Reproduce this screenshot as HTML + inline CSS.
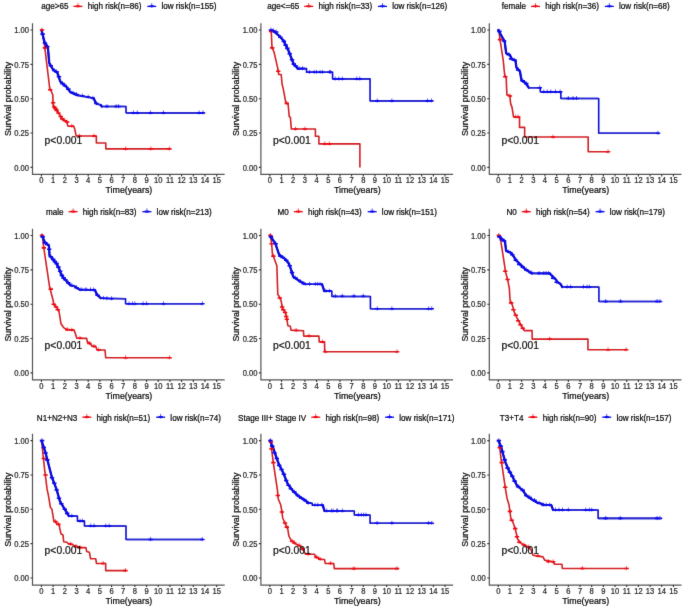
<!DOCTYPE html>
<html><head><meta charset="utf-8"><style>
html,body{margin:0;padding:0;background:#fff;}
svg{display:block;}
text{font-family:"Liberation Sans",sans-serif;}
</style></head><body>
<svg width="685" height="608" viewBox="0 0 685 608">
<defs><filter id="bl" x="0" y="0" width="685" height="608" filterUnits="userSpaceOnUse" color-interpolation-filters="sRGB"><feConvolveMatrix order="3" kernelMatrix="0.010000000000000002 0.1 0.010000000000000002 0.1 1 0.1 0.010000000000000002 0.1 0.010000000000000002" edgeMode="duplicate" preserveAlpha="true"/></filter></defs>
<g filter="url(#bl)">
<rect width="685" height="608" fill="#fff"/>
<path d="M32.5,23.2V174.45H224.7" stroke="#555555" stroke-width="1.2" fill="none"/>
<text transform="translate(29,170.6) scale(1,1.08)" text-anchor="end" font-size="7.6" fill="#2a2a2a" stroke="#2a2a2a" stroke-width="0.22">0.00</text>
<text transform="translate(29,136.25) scale(1,1.08)" text-anchor="end" font-size="7.6" fill="#2a2a2a" stroke="#2a2a2a" stroke-width="0.22">0.25</text>
<text transform="translate(29,101.9) scale(1,1.08)" text-anchor="end" font-size="7.6" fill="#2a2a2a" stroke="#2a2a2a" stroke-width="0.22">0.50</text>
<text transform="translate(29,67.55) scale(1,1.08)" text-anchor="end" font-size="7.6" fill="#2a2a2a" stroke="#2a2a2a" stroke-width="0.22">0.75</text>
<text transform="translate(29,33.2) scale(1,1.08)" text-anchor="end" font-size="7.6" fill="#2a2a2a" stroke="#2a2a2a" stroke-width="0.22">1.00</text>
<text transform="translate(41.45,183.1) scale(1,1.08)" text-anchor="middle" font-size="7.6" fill="#2a2a2a" stroke="#2a2a2a" stroke-width="0.22">0</text>
<text transform="translate(53.13,183.1) scale(1,1.08)" text-anchor="middle" font-size="7.6" fill="#2a2a2a" stroke="#2a2a2a" stroke-width="0.22">1</text>
<text transform="translate(64.81,183.1) scale(1,1.08)" text-anchor="middle" font-size="7.6" fill="#2a2a2a" stroke="#2a2a2a" stroke-width="0.22">2</text>
<text transform="translate(76.49,183.1) scale(1,1.08)" text-anchor="middle" font-size="7.6" fill="#2a2a2a" stroke="#2a2a2a" stroke-width="0.22">3</text>
<text transform="translate(88.17,183.1) scale(1,1.08)" text-anchor="middle" font-size="7.6" fill="#2a2a2a" stroke="#2a2a2a" stroke-width="0.22">4</text>
<text transform="translate(99.85,183.1) scale(1,1.08)" text-anchor="middle" font-size="7.6" fill="#2a2a2a" stroke="#2a2a2a" stroke-width="0.22">5</text>
<text transform="translate(111.53,183.1) scale(1,1.08)" text-anchor="middle" font-size="7.6" fill="#2a2a2a" stroke="#2a2a2a" stroke-width="0.22">6</text>
<text transform="translate(123.21,183.1) scale(1,1.08)" text-anchor="middle" font-size="7.6" fill="#2a2a2a" stroke="#2a2a2a" stroke-width="0.22">7</text>
<text transform="translate(134.89,183.1) scale(1,1.08)" text-anchor="middle" font-size="7.6" fill="#2a2a2a" stroke="#2a2a2a" stroke-width="0.22">8</text>
<text transform="translate(146.57,183.1) scale(1,1.08)" text-anchor="middle" font-size="7.6" fill="#2a2a2a" stroke="#2a2a2a" stroke-width="0.22">9</text>
<text transform="translate(158.25,183.1) scale(1,1.08)" text-anchor="middle" font-size="7.6" fill="#2a2a2a" stroke="#2a2a2a" stroke-width="0.22">10</text>
<text transform="translate(169.93,183.1) scale(1,1.08)" text-anchor="middle" font-size="7.6" fill="#2a2a2a" stroke="#2a2a2a" stroke-width="0.22">11</text>
<text transform="translate(181.61,183.1) scale(1,1.08)" text-anchor="middle" font-size="7.6" fill="#2a2a2a" stroke="#2a2a2a" stroke-width="0.22">12</text>
<text transform="translate(193.29,183.1) scale(1,1.08)" text-anchor="middle" font-size="7.6" fill="#2a2a2a" stroke="#2a2a2a" stroke-width="0.22">13</text>
<text transform="translate(204.97,183.1) scale(1,1.08)" text-anchor="middle" font-size="7.6" fill="#2a2a2a" stroke="#2a2a2a" stroke-width="0.22">14</text>
<text transform="translate(216.65,183.1) scale(1,1.08)" text-anchor="middle" font-size="7.6" fill="#2a2a2a" stroke="#2a2a2a" stroke-width="0.22">15</text>
<path d="M30.5,167.4h2.0M30.5,133.05h2.0M30.5,98.7h2.0M30.5,64.35h2.0M30.5,30h2.0M41.45,174.45v2.0M53.13,174.45v2.0M64.81,174.45v2.0M76.49,174.45v2.0M88.17,174.45v2.0M99.85,174.45v2.0M111.53,174.45v2.0M123.21,174.45v2.0M134.89,174.45v2.0M146.57,174.45v2.0M158.25,174.45v2.0M169.93,174.45v2.0M181.61,174.45v2.0M193.29,174.45v2.0M204.97,174.45v2.0M216.65,174.45v2.0" stroke="#333" stroke-width="1.1" fill="none"/>
<text transform="translate(128.9,193.1) scale(1,1.08)" text-anchor="middle" font-size="8.85" fill="#0a0a0a" stroke="#0a0a0a" stroke-width="0.22">Time(years)</text>
<text transform="translate(10.7,99) rotate(-90) scale(1,1.08)" text-anchor="middle" font-size="8.85" fill="#0a0a0a" stroke="#0a0a0a" stroke-width="0.22">Survival probability</text>
<path d="M41.45,30L42.03,31.37L44.6,45.8L49.86,89.49L50.79,90.04L52.78,94.99L53.13,105.57L57.33,111.34L59.44,114.64L62.71,119.58L66.45,121.23L68.08,126.18L73.8,126.18L74.62,128.65L76.26,136.07L96.35,136.07L96.35,142.94L105.81,142.94L105.81,148.85L169.35,148.85" stroke="#d22024" stroke-width="1.6" fill="none" stroke-linejoin="round"/>
<path d="M41.45,30L44.6,42.37L47.87,47.31L49.28,63.11L53.13,69.71L57.22,72.59L60.37,81.53L66.33,86.75L70.3,92.1L78.13,95.4L90.04,97.46L93.89,98.56L95.41,102.41L96.93,103.92L100.78,104.88L101.84,106.53L126.01,106.53L126.01,112.85L202.98,112.85" stroke="#0c0cd6" stroke-width="1.6" fill="none" stroke-linejoin="round"/>
<path d="M41.45,30L44.6,42.37M44.6,42.37L47.87,47.31M47.87,47.31L49.28,63.11M49.28,63.11L53.13,69.71M53.13,69.71L57.22,72.59M57.22,72.59L60.37,81.53M60.37,81.53L66.33,86.75M66.33,86.75L70.3,92.1M70.3,92.1L78.13,95.4M93.89,98.56L95.41,102.41M95.41,102.41L96.93,103.92M100.78,104.88L101.84,106.53" stroke="#0c0cd6" stroke-width="2.3" fill="none" stroke-linecap="round" stroke-linejoin="round"/>
<path d="M78.73,95.4L89.44,97.46M90.64,97.46L93.29,98.56M97.53,103.92L100.18,104.88M102.44,106.53L125.41,106.53M126.61,112.85L202.38,112.85" stroke="#2a2ad0" stroke-width="1.6" fill="none"/>
<path d="M42.03,27.6v4M44.95,45.46v4M50.21,87.37v4M53.13,100.42v4M54.3,104.54v4M55.47,106.19v4M56.63,107.98v4M58.39,110.59v4M60.72,114.16v4M62.24,116.5v4M64.81,118.28v4M67.15,119.66v4M71.82,123.78v4M79.41,133.67v4M94.01,133.67v4M125.55,146.45v4M150.89,146.45v4M169.35,146.45v4" stroke="#ee0a12" stroke-width="0.9" stroke-opacity="0.75" fill="none"/><path d="M39.83,30h4.4M42.75,47.86h4.4M48.01,89.77h4.4M50.93,102.82h4.4M52.1,106.94h4.4M53.27,108.59h4.4M54.43,110.38h4.4M56.19,112.99h4.4M58.52,116.56h4.4M60.04,118.9h4.4M62.61,120.68h4.4M64.95,122.06h4.4M69.62,126.18h4.4M77.21,136.07h4.4M91.81,136.07h4.4M123.35,148.85h4.4M148.69,148.85h4.4M167.15,148.85h4.4" stroke="#ee0a12" stroke-width="1.6" fill="none"/>
<path d="M42.62,31.72v4M44.95,40.65v4M47.29,44.09v4M50.79,63.32v4M54.3,68.13v4M56.63,69.51v4M58.97,74.32v4M62.47,81.19v4M64.81,83.25v4M68.31,86.68v4M72.99,90.8v4M76.49,92.18v4M82.33,93.55v4M88.17,94.65v4M92.84,95.89v4M96.35,101.11v4M106.86,104.13v4M116.2,104.13v4M118.54,104.13v4M133.37,110.45v4M137.23,110.45v4M150.42,110.45v4M163.51,110.45v4M199.13,110.45v4M202.98,110.45v4" stroke="#0a0aee" stroke-width="0.9" stroke-opacity="0.75" fill="none"/><path d="M40.42,34.12h4.4M42.75,43.05h4.4M45.09,46.49h4.4M48.59,65.72h4.4M52.1,70.53h4.4M54.43,71.91h4.4M56.77,76.72h4.4M60.27,83.59h4.4M62.61,85.65h4.4M66.11,89.08h4.4M70.79,93.2h4.4M74.29,94.58h4.4M80.13,95.95h4.4M85.97,97.05h4.4M90.64,98.29h4.4M94.15,103.51h4.4M104.66,106.53h4.4M114,106.53h4.4M116.34,106.53h4.4M131.17,112.85h4.4M135.03,112.85h4.4M148.22,112.85h4.4M161.31,112.85h4.4M196.93,112.85h4.4M200.78,112.85h4.4" stroke="#0a0aee" stroke-width="1.6" fill="none"/>
<text transform="translate(44.6,143.8) scale(1,1.08)" font-size="10.35" fill="#111" stroke="#111" stroke-width="0.22">p&lt;0.001</text>
<text transform="translate(41.2,8.9) scale(1,1.08)" font-size="8.1" fill="#0a0a0a" stroke="#0a0a0a" stroke-width="0.22">age&gt;65</text>
<path d="M73.45,6.4h9" stroke="#ee0a12" stroke-width="1.3" fill="none"/><path d="M75.75,6.2h4.4" stroke="#ee0a12" stroke-width="1.8" fill="none"/><path d="M77.95,3.2v4.6" stroke="#ee0a12" stroke-width="0.9" stroke-opacity="0.8" fill="none"/>
<text transform="translate(87.65,8.9) scale(1,1.08)" font-size="8.1" fill="#0a0a0a" stroke="#0a0a0a" stroke-width="0.22">high risk(n=86)</text>
<path d="M147.25,6.4h9" stroke="#0a0aee" stroke-width="1.3" fill="none"/><path d="M149.55,6.2h4.4" stroke="#0a0aee" stroke-width="1.8" fill="none"/><path d="M151.75,3.2v4.6" stroke="#0a0aee" stroke-width="0.9" stroke-opacity="0.8" fill="none"/>
<text transform="translate(161.45,8.9) scale(1,1.08)" font-size="8.1" fill="#0a0a0a" stroke="#0a0a0a" stroke-width="0.22">low risk(n=155)</text>
<path d="M260.9,23.2V174.45H453.1" stroke="#555555" stroke-width="1.2" fill="none"/>
<text transform="translate(257.4,170.6) scale(1,1.08)" text-anchor="end" font-size="7.6" fill="#2a2a2a" stroke="#2a2a2a" stroke-width="0.22">0.00</text>
<text transform="translate(257.4,136.25) scale(1,1.08)" text-anchor="end" font-size="7.6" fill="#2a2a2a" stroke="#2a2a2a" stroke-width="0.22">0.25</text>
<text transform="translate(257.4,101.9) scale(1,1.08)" text-anchor="end" font-size="7.6" fill="#2a2a2a" stroke="#2a2a2a" stroke-width="0.22">0.50</text>
<text transform="translate(257.4,67.55) scale(1,1.08)" text-anchor="end" font-size="7.6" fill="#2a2a2a" stroke="#2a2a2a" stroke-width="0.22">0.75</text>
<text transform="translate(257.4,33.2) scale(1,1.08)" text-anchor="end" font-size="7.6" fill="#2a2a2a" stroke="#2a2a2a" stroke-width="0.22">1.00</text>
<text transform="translate(269.85,183.1) scale(1,1.08)" text-anchor="middle" font-size="7.6" fill="#2a2a2a" stroke="#2a2a2a" stroke-width="0.22">0</text>
<text transform="translate(281.53,183.1) scale(1,1.08)" text-anchor="middle" font-size="7.6" fill="#2a2a2a" stroke="#2a2a2a" stroke-width="0.22">1</text>
<text transform="translate(293.21,183.1) scale(1,1.08)" text-anchor="middle" font-size="7.6" fill="#2a2a2a" stroke="#2a2a2a" stroke-width="0.22">2</text>
<text transform="translate(304.89,183.1) scale(1,1.08)" text-anchor="middle" font-size="7.6" fill="#2a2a2a" stroke="#2a2a2a" stroke-width="0.22">3</text>
<text transform="translate(316.57,183.1) scale(1,1.08)" text-anchor="middle" font-size="7.6" fill="#2a2a2a" stroke="#2a2a2a" stroke-width="0.22">4</text>
<text transform="translate(328.25,183.1) scale(1,1.08)" text-anchor="middle" font-size="7.6" fill="#2a2a2a" stroke="#2a2a2a" stroke-width="0.22">5</text>
<text transform="translate(339.93,183.1) scale(1,1.08)" text-anchor="middle" font-size="7.6" fill="#2a2a2a" stroke="#2a2a2a" stroke-width="0.22">6</text>
<text transform="translate(351.61,183.1) scale(1,1.08)" text-anchor="middle" font-size="7.6" fill="#2a2a2a" stroke="#2a2a2a" stroke-width="0.22">7</text>
<text transform="translate(363.29,183.1) scale(1,1.08)" text-anchor="middle" font-size="7.6" fill="#2a2a2a" stroke="#2a2a2a" stroke-width="0.22">8</text>
<text transform="translate(374.97,183.1) scale(1,1.08)" text-anchor="middle" font-size="7.6" fill="#2a2a2a" stroke="#2a2a2a" stroke-width="0.22">9</text>
<text transform="translate(386.65,183.1) scale(1,1.08)" text-anchor="middle" font-size="7.6" fill="#2a2a2a" stroke="#2a2a2a" stroke-width="0.22">10</text>
<text transform="translate(398.33,183.1) scale(1,1.08)" text-anchor="middle" font-size="7.6" fill="#2a2a2a" stroke="#2a2a2a" stroke-width="0.22">11</text>
<text transform="translate(410.01,183.1) scale(1,1.08)" text-anchor="middle" font-size="7.6" fill="#2a2a2a" stroke="#2a2a2a" stroke-width="0.22">12</text>
<text transform="translate(421.69,183.1) scale(1,1.08)" text-anchor="middle" font-size="7.6" fill="#2a2a2a" stroke="#2a2a2a" stroke-width="0.22">13</text>
<text transform="translate(433.37,183.1) scale(1,1.08)" text-anchor="middle" font-size="7.6" fill="#2a2a2a" stroke="#2a2a2a" stroke-width="0.22">14</text>
<text transform="translate(445.05,183.1) scale(1,1.08)" text-anchor="middle" font-size="7.6" fill="#2a2a2a" stroke="#2a2a2a" stroke-width="0.22">15</text>
<path d="M258.9,167.4h2.0M258.9,133.05h2.0M258.9,98.7h2.0M258.9,64.35h2.0M258.9,30h2.0M269.85,174.45v2.0M281.53,174.45v2.0M293.21,174.45v2.0M304.89,174.45v2.0M316.57,174.45v2.0M328.25,174.45v2.0M339.93,174.45v2.0M351.61,174.45v2.0M363.29,174.45v2.0M374.97,174.45v2.0M386.65,174.45v2.0M398.33,174.45v2.0M410.01,174.45v2.0M421.69,174.45v2.0M433.37,174.45v2.0M445.05,174.45v2.0" stroke="#333" stroke-width="1.1" fill="none"/>
<text transform="translate(357.3,193.1) scale(1,1.08)" text-anchor="middle" font-size="8.85" fill="#0a0a0a" stroke="#0a0a0a" stroke-width="0.22">Time(years)</text>
<text transform="translate(239.1,99) rotate(-90) scale(1,1.08)" text-anchor="middle" font-size="8.85" fill="#0a0a0a" stroke="#0a0a0a" stroke-width="0.22">Survival probability</text>
<path d="M269.85,30L271.02,31.37L271.37,33.44L271.95,47.04L274.05,52.12L277.68,67.92L278.73,74.52L281.18,74.52L282.11,84.27L283.17,88.4L285.85,102.96L288.07,103.78L289.24,116.56L290.41,117.39L291.34,129.07L315.4,129.07L315.4,136.21L318.91,136.21L318.91,143.9L359.9,143.9L359.9,167.4" stroke="#d22024" stroke-width="1.6" fill="none" stroke-linejoin="round"/>
<path d="M269.85,30L272.19,30.69L274.99,32.34L279.54,36.05L280.25,37.28L283.28,40.3L288.42,50.47L293.56,63.8L295.55,65.86L297.65,68.61L306.53,68.61L306.53,72.32L332.57,72.32L332.57,78.91L370.06,78.91L370.06,100.9L431.38,100.9" stroke="#0c0cd6" stroke-width="1.6" fill="none" stroke-linejoin="round"/>
<path d="M272.19,30.69L274.99,32.34M274.99,32.34L279.54,36.05M279.54,36.05L280.25,37.28M280.25,37.28L283.28,40.3M283.28,40.3L288.42,50.47M288.42,50.47L293.56,63.8M293.56,63.8L295.55,65.86M295.55,65.86L297.65,68.61" stroke="#0c0cd6" stroke-width="2.3" fill="none" stroke-linecap="round" stroke-linejoin="round"/>
<path d="M270.45,30L271.59,30.69M298.25,68.61L305.93,68.61M307.13,72.32L331.97,72.32M333.17,78.91L369.46,78.91M370.66,100.9L430.78,100.9" stroke="#2a2ad0" stroke-width="1.6" fill="none"/>
<path d="M271.02,28.97v4M272.19,45.46v4M278.26,68.82v4M286.79,100.97v4M295.55,126.67v4M304.89,126.67v4M324.75,141.5v4M329.42,141.5v4" stroke="#ee0a12" stroke-width="0.9" stroke-opacity="0.75" fill="none"/><path d="M268.82,31.37h4.4M269.99,47.86h4.4M276.06,71.22h4.4M284.59,103.37h4.4M293.35,129.07h4.4M302.69,129.07h4.4M322.55,143.9h4.4M327.22,143.9h4.4" stroke="#ee0a12" stroke-width="1.6" fill="none"/>
<path d="M271.02,27.6v4M273.35,28.29v4M276.27,29.66v4M280.36,34.88v4M283.87,39v4M285.62,42.71v4M287.37,46.01v4M289.71,51.37v4M292.04,57.42v4M293.79,61.68v4M295.55,63.46v4M299.05,66.21v4M302.55,66.21v4M309.56,69.92v4M314.23,69.92v4M316.57,69.92v4M320.07,69.92v4M322.41,69.92v4M329.42,69.92v4M330.59,69.92v4M335.26,76.51v4M338.76,76.51v4M342.27,76.51v4M356.87,76.51v4M359.79,76.51v4M377.31,98.5v4M391.91,98.5v4M427.53,98.5v4M431.38,98.5v4" stroke="#0a0aee" stroke-width="0.9" stroke-opacity="0.75" fill="none"/><path d="M268.82,30h4.4M271.15,30.69h4.4M274.07,32.06h4.4M278.16,37.28h4.4M281.67,41.4h4.4M283.42,45.11h4.4M285.17,48.41h4.4M287.51,53.77h4.4M289.84,59.82h4.4M291.59,64.08h4.4M293.35,65.86h4.4M296.85,68.61h4.4M300.35,68.61h4.4M307.36,72.32h4.4M312.03,72.32h4.4M314.37,72.32h4.4M317.87,72.32h4.4M320.21,72.32h4.4M327.22,72.32h4.4M328.39,72.32h4.4M333.06,78.91h4.4M336.56,78.91h4.4M340.07,78.91h4.4M354.67,78.91h4.4M357.59,78.91h4.4M375.11,100.9h4.4M389.71,100.9h4.4M425.33,100.9h4.4M429.18,100.9h4.4" stroke="#0a0aee" stroke-width="1.6" fill="none"/>
<text transform="translate(273,143.8) scale(1,1.08)" font-size="10.35" fill="#111" stroke="#111" stroke-width="0.22">p&lt;0.001</text>
<text transform="translate(267.23,8.9) scale(1,1.08)" font-size="8.1" fill="#0a0a0a" stroke="#0a0a0a" stroke-width="0.22">age&lt;=65</text>
<path d="M304.22,6.4h9" stroke="#ee0a12" stroke-width="1.3" fill="none"/><path d="M306.52,6.2h4.4" stroke="#ee0a12" stroke-width="1.8" fill="none"/><path d="M308.72,3.2v4.6" stroke="#ee0a12" stroke-width="0.9" stroke-opacity="0.8" fill="none"/>
<text transform="translate(318.42,8.9) scale(1,1.08)" font-size="8.1" fill="#0a0a0a" stroke="#0a0a0a" stroke-width="0.22">high risk(n=33)</text>
<path d="M378.02,6.4h9" stroke="#0a0aee" stroke-width="1.3" fill="none"/><path d="M380.32,6.2h4.4" stroke="#0a0aee" stroke-width="1.8" fill="none"/><path d="M382.52,3.2v4.6" stroke="#0a0aee" stroke-width="0.9" stroke-opacity="0.8" fill="none"/>
<text transform="translate(392.22,8.9) scale(1,1.08)" font-size="8.1" fill="#0a0a0a" stroke="#0a0a0a" stroke-width="0.22">low risk(n=126)</text>
<path d="M489.3,23.2V174.45H681.5" stroke="#555555" stroke-width="1.2" fill="none"/>
<text transform="translate(485.8,170.6) scale(1,1.08)" text-anchor="end" font-size="7.6" fill="#2a2a2a" stroke="#2a2a2a" stroke-width="0.22">0.00</text>
<text transform="translate(485.8,136.25) scale(1,1.08)" text-anchor="end" font-size="7.6" fill="#2a2a2a" stroke="#2a2a2a" stroke-width="0.22">0.25</text>
<text transform="translate(485.8,101.9) scale(1,1.08)" text-anchor="end" font-size="7.6" fill="#2a2a2a" stroke="#2a2a2a" stroke-width="0.22">0.50</text>
<text transform="translate(485.8,67.55) scale(1,1.08)" text-anchor="end" font-size="7.6" fill="#2a2a2a" stroke="#2a2a2a" stroke-width="0.22">0.75</text>
<text transform="translate(485.8,33.2) scale(1,1.08)" text-anchor="end" font-size="7.6" fill="#2a2a2a" stroke="#2a2a2a" stroke-width="0.22">1.00</text>
<text transform="translate(498.25,183.1) scale(1,1.08)" text-anchor="middle" font-size="7.6" fill="#2a2a2a" stroke="#2a2a2a" stroke-width="0.22">0</text>
<text transform="translate(509.93,183.1) scale(1,1.08)" text-anchor="middle" font-size="7.6" fill="#2a2a2a" stroke="#2a2a2a" stroke-width="0.22">1</text>
<text transform="translate(521.61,183.1) scale(1,1.08)" text-anchor="middle" font-size="7.6" fill="#2a2a2a" stroke="#2a2a2a" stroke-width="0.22">2</text>
<text transform="translate(533.29,183.1) scale(1,1.08)" text-anchor="middle" font-size="7.6" fill="#2a2a2a" stroke="#2a2a2a" stroke-width="0.22">3</text>
<text transform="translate(544.97,183.1) scale(1,1.08)" text-anchor="middle" font-size="7.6" fill="#2a2a2a" stroke="#2a2a2a" stroke-width="0.22">4</text>
<text transform="translate(556.65,183.1) scale(1,1.08)" text-anchor="middle" font-size="7.6" fill="#2a2a2a" stroke="#2a2a2a" stroke-width="0.22">5</text>
<text transform="translate(568.33,183.1) scale(1,1.08)" text-anchor="middle" font-size="7.6" fill="#2a2a2a" stroke="#2a2a2a" stroke-width="0.22">6</text>
<text transform="translate(580.01,183.1) scale(1,1.08)" text-anchor="middle" font-size="7.6" fill="#2a2a2a" stroke="#2a2a2a" stroke-width="0.22">7</text>
<text transform="translate(591.69,183.1) scale(1,1.08)" text-anchor="middle" font-size="7.6" fill="#2a2a2a" stroke="#2a2a2a" stroke-width="0.22">8</text>
<text transform="translate(603.37,183.1) scale(1,1.08)" text-anchor="middle" font-size="7.6" fill="#2a2a2a" stroke="#2a2a2a" stroke-width="0.22">9</text>
<text transform="translate(615.05,183.1) scale(1,1.08)" text-anchor="middle" font-size="7.6" fill="#2a2a2a" stroke="#2a2a2a" stroke-width="0.22">10</text>
<text transform="translate(626.73,183.1) scale(1,1.08)" text-anchor="middle" font-size="7.6" fill="#2a2a2a" stroke="#2a2a2a" stroke-width="0.22">11</text>
<text transform="translate(638.41,183.1) scale(1,1.08)" text-anchor="middle" font-size="7.6" fill="#2a2a2a" stroke="#2a2a2a" stroke-width="0.22">12</text>
<text transform="translate(650.09,183.1) scale(1,1.08)" text-anchor="middle" font-size="7.6" fill="#2a2a2a" stroke="#2a2a2a" stroke-width="0.22">13</text>
<text transform="translate(661.77,183.1) scale(1,1.08)" text-anchor="middle" font-size="7.6" fill="#2a2a2a" stroke="#2a2a2a" stroke-width="0.22">14</text>
<text transform="translate(673.45,183.1) scale(1,1.08)" text-anchor="middle" font-size="7.6" fill="#2a2a2a" stroke="#2a2a2a" stroke-width="0.22">15</text>
<path d="M487.3,167.4h2.0M487.3,133.05h2.0M487.3,98.7h2.0M487.3,64.35h2.0M487.3,30h2.0M498.25,174.45v2.0M509.93,174.45v2.0M521.61,174.45v2.0M533.29,174.45v2.0M544.97,174.45v2.0M556.65,174.45v2.0M568.33,174.45v2.0M580.01,174.45v2.0M591.69,174.45v2.0M603.37,174.45v2.0M615.05,174.45v2.0M626.73,174.45v2.0M638.41,174.45v2.0M650.09,174.45v2.0M661.77,174.45v2.0M673.45,174.45v2.0" stroke="#333" stroke-width="1.1" fill="none"/>
<text transform="translate(585.7,193.1) scale(1,1.08)" text-anchor="middle" font-size="8.85" fill="#0a0a0a" stroke="#0a0a0a" stroke-width="0.22">Time(years)</text>
<text transform="translate(467.5,99) rotate(-90) scale(1,1.08)" text-anchor="middle" font-size="8.85" fill="#0a0a0a" stroke="#0a0a0a" stroke-width="0.22">Survival probability</text>
<path d="M498.25,30L498.83,30.69L500.24,40.99L503.16,59.95L504.67,74.79L506.19,77.82L506.89,94.85L509.81,95.54L510.63,103.65L512.03,107.36L513.55,116.97L519.51,116.97L519.51,127.42L524.65,127.42L524.65,137.03L588.19,137.03L588.19,151.74L608.04,151.74" stroke="#d22024" stroke-width="1.6" fill="none" stroke-linejoin="round"/>
<path d="M498.25,30L504.67,41.54L506.19,53.36L509.7,54.73L511.92,59.13L515.54,60.64L516.35,67.24L519.97,71.49L521.49,80.29L525.81,83.31L528.73,87.71L540.3,87.71L540.3,91.83L560.85,91.83L560.85,98.43L598.7,98.43L598.7,133.26L658.03,133.26" stroke="#0c0cd6" stroke-width="1.6" fill="none" stroke-linejoin="round"/>
<path d="M498.25,30L504.67,41.54M504.67,41.54L506.19,53.36M506.19,53.36L509.7,54.73M509.7,54.73L511.92,59.13M511.92,59.13L515.54,60.64M515.54,60.64L516.35,67.24M516.35,67.24L519.97,71.49M519.97,71.49L521.49,80.29M521.49,80.29L525.81,83.31M525.81,83.31L528.73,87.71" stroke="#0c0cd6" stroke-width="2.3" fill="none" stroke-linecap="round" stroke-linejoin="round"/>
<path d="M529.33,87.71L539.7,87.71M540.9,91.83L560.25,91.83M561.45,98.43L598.1,98.43M599.3,133.26L657.43,133.26" stroke="#2a2ad0" stroke-width="1.6" fill="none"/>
<path d="M500,37.22v4M505.26,74.32v4M509.93,93.55v4M515.77,114.57v4M518.11,114.57v4M553.03,134.63v4M608.04,149.34v4" stroke="#ee0a12" stroke-width="0.9" stroke-opacity="0.75" fill="none"/><path d="M497.8,39.62h4.4M503.06,76.72h4.4M507.73,95.95h4.4M513.57,116.97h4.4M515.91,116.97h4.4M550.83,137.03h4.4M605.84,151.74h4.4" stroke="#ee0a12" stroke-width="1.6" fill="none"/>
<path d="M499.42,28.97v4M504.09,38.59v4M508.76,52.33v4M511.1,56.45v4M514.6,57.83v4M518.11,67.45v4M522.78,78.44v4M526.28,81.19v4M539.71,85.31v4M543.8,89.43v4M547.31,89.43v4M550.81,89.43v4M555.48,89.43v4M560.15,89.43v4M568.33,96.03v4M573,96.03v4M576.51,96.03v4M658.03,130.86v4" stroke="#0a0aee" stroke-width="0.9" stroke-opacity="0.75" fill="none"/><path d="M497.22,31.37h4.4M501.89,40.99h4.4M506.56,54.73h4.4M508.9,58.85h4.4M512.4,60.23h4.4M515.91,69.85h4.4M520.58,80.84h4.4M524.08,83.59h4.4M537.51,87.71h4.4M541.6,91.83h4.4M545.11,91.83h4.4M548.61,91.83h4.4M553.28,91.83h4.4M557.95,91.83h4.4M566.13,98.43h4.4M570.8,98.43h4.4M574.31,98.43h4.4M655.83,133.26h4.4" stroke="#0a0aee" stroke-width="1.6" fill="none"/>
<text transform="translate(501.4,143.8) scale(1,1.08)" font-size="10.35" fill="#111" stroke="#111" stroke-width="0.22">p&lt;0.001</text>
<text transform="translate(501.72,8.9) scale(1,1.08)" font-size="8.1" fill="#0a0a0a" stroke="#0a0a0a" stroke-width="0.22">female</text>
<path d="M531.03,6.4h9" stroke="#ee0a12" stroke-width="1.3" fill="none"/><path d="M533.33,6.2h4.4" stroke="#ee0a12" stroke-width="1.8" fill="none"/><path d="M535.53,3.2v4.6" stroke="#ee0a12" stroke-width="0.9" stroke-opacity="0.8" fill="none"/>
<text transform="translate(545.23,8.9) scale(1,1.08)" font-size="8.1" fill="#0a0a0a" stroke="#0a0a0a" stroke-width="0.22">high risk(n=36)</text>
<path d="M604.84,6.4h9" stroke="#0a0aee" stroke-width="1.3" fill="none"/><path d="M607.14,6.2h4.4" stroke="#0a0aee" stroke-width="1.8" fill="none"/><path d="M609.34,3.2v4.6" stroke="#0a0aee" stroke-width="0.9" stroke-opacity="0.8" fill="none"/>
<text transform="translate(619.04,8.9) scale(1,1.08)" font-size="8.1" fill="#0a0a0a" stroke="#0a0a0a" stroke-width="0.22">low risk(n=68)</text>
<path d="M32.5,228.7V379.95H224.7" stroke="#555555" stroke-width="1.2" fill="none"/>
<text transform="translate(29,376.1) scale(1,1.08)" text-anchor="end" font-size="7.6" fill="#2a2a2a" stroke="#2a2a2a" stroke-width="0.22">0.00</text>
<text transform="translate(29,341.75) scale(1,1.08)" text-anchor="end" font-size="7.6" fill="#2a2a2a" stroke="#2a2a2a" stroke-width="0.22">0.25</text>
<text transform="translate(29,307.4) scale(1,1.08)" text-anchor="end" font-size="7.6" fill="#2a2a2a" stroke="#2a2a2a" stroke-width="0.22">0.50</text>
<text transform="translate(29,273.05) scale(1,1.08)" text-anchor="end" font-size="7.6" fill="#2a2a2a" stroke="#2a2a2a" stroke-width="0.22">0.75</text>
<text transform="translate(29,238.7) scale(1,1.08)" text-anchor="end" font-size="7.6" fill="#2a2a2a" stroke="#2a2a2a" stroke-width="0.22">1.00</text>
<text transform="translate(41.45,388.6) scale(1,1.08)" text-anchor="middle" font-size="7.6" fill="#2a2a2a" stroke="#2a2a2a" stroke-width="0.22">0</text>
<text transform="translate(53.13,388.6) scale(1,1.08)" text-anchor="middle" font-size="7.6" fill="#2a2a2a" stroke="#2a2a2a" stroke-width="0.22">1</text>
<text transform="translate(64.81,388.6) scale(1,1.08)" text-anchor="middle" font-size="7.6" fill="#2a2a2a" stroke="#2a2a2a" stroke-width="0.22">2</text>
<text transform="translate(76.49,388.6) scale(1,1.08)" text-anchor="middle" font-size="7.6" fill="#2a2a2a" stroke="#2a2a2a" stroke-width="0.22">3</text>
<text transform="translate(88.17,388.6) scale(1,1.08)" text-anchor="middle" font-size="7.6" fill="#2a2a2a" stroke="#2a2a2a" stroke-width="0.22">4</text>
<text transform="translate(99.85,388.6) scale(1,1.08)" text-anchor="middle" font-size="7.6" fill="#2a2a2a" stroke="#2a2a2a" stroke-width="0.22">5</text>
<text transform="translate(111.53,388.6) scale(1,1.08)" text-anchor="middle" font-size="7.6" fill="#2a2a2a" stroke="#2a2a2a" stroke-width="0.22">6</text>
<text transform="translate(123.21,388.6) scale(1,1.08)" text-anchor="middle" font-size="7.6" fill="#2a2a2a" stroke="#2a2a2a" stroke-width="0.22">7</text>
<text transform="translate(134.89,388.6) scale(1,1.08)" text-anchor="middle" font-size="7.6" fill="#2a2a2a" stroke="#2a2a2a" stroke-width="0.22">8</text>
<text transform="translate(146.57,388.6) scale(1,1.08)" text-anchor="middle" font-size="7.6" fill="#2a2a2a" stroke="#2a2a2a" stroke-width="0.22">9</text>
<text transform="translate(158.25,388.6) scale(1,1.08)" text-anchor="middle" font-size="7.6" fill="#2a2a2a" stroke="#2a2a2a" stroke-width="0.22">10</text>
<text transform="translate(169.93,388.6) scale(1,1.08)" text-anchor="middle" font-size="7.6" fill="#2a2a2a" stroke="#2a2a2a" stroke-width="0.22">11</text>
<text transform="translate(181.61,388.6) scale(1,1.08)" text-anchor="middle" font-size="7.6" fill="#2a2a2a" stroke="#2a2a2a" stroke-width="0.22">12</text>
<text transform="translate(193.29,388.6) scale(1,1.08)" text-anchor="middle" font-size="7.6" fill="#2a2a2a" stroke="#2a2a2a" stroke-width="0.22">13</text>
<text transform="translate(204.97,388.6) scale(1,1.08)" text-anchor="middle" font-size="7.6" fill="#2a2a2a" stroke="#2a2a2a" stroke-width="0.22">14</text>
<text transform="translate(216.65,388.6) scale(1,1.08)" text-anchor="middle" font-size="7.6" fill="#2a2a2a" stroke="#2a2a2a" stroke-width="0.22">15</text>
<path d="M30.5,372.9h2.0M30.5,338.55h2.0M30.5,304.2h2.0M30.5,269.85h2.0M30.5,235.5h2.0M41.45,379.95v2.0M53.13,379.95v2.0M64.81,379.95v2.0M76.49,379.95v2.0M88.17,379.95v2.0M99.85,379.95v2.0M111.53,379.95v2.0M123.21,379.95v2.0M134.89,379.95v2.0M146.57,379.95v2.0M158.25,379.95v2.0M169.93,379.95v2.0M181.61,379.95v2.0M193.29,379.95v2.0M204.97,379.95v2.0M216.65,379.95v2.0" stroke="#333" stroke-width="1.1" fill="none"/>
<text transform="translate(128.9,398.6) scale(1,1.08)" text-anchor="middle" font-size="8.85" fill="#0a0a0a" stroke="#0a0a0a" stroke-width="0.22">Time(years)</text>
<text transform="translate(10.7,304.5) rotate(-90) scale(1,1.08)" text-anchor="middle" font-size="8.85" fill="#0a0a0a" stroke="#0a0a0a" stroke-width="0.22">Survival probability</text>
<path d="M41.45,235.5L42.62,236.19L43.2,243.74L46.36,265.04L49.51,286.48L53.01,299.94L53.83,304.61L57.1,307.91L59.09,311.76L60.96,323.71L63.64,327.56L66.91,329.62L74.15,330.17L75.56,334.15L76.84,338.14L86.65,338.41L87.35,341.98L90.62,344.05L91.91,345.97L95.76,346.66L97.16,349.95L104.99,349.95L105.69,357.79L169.58,357.79" stroke="#d22024" stroke-width="1.6" fill="none" stroke-linejoin="round"/>
<path d="M41.45,235.5L42.03,235.77L44.95,242.64L48.93,245.67L49.51,255.29L53.01,259.41L56.4,263.39L59.32,269.16L60.96,273.83L62.24,276.17L66.21,280.7L70.3,285.24L74.85,286.48L79.53,289.64L94.94,289.91L96.81,294.44L100.78,298.29L125.55,298.7L125.55,303.79L202.4,303.79" stroke="#0c0cd6" stroke-width="1.6" fill="none" stroke-linejoin="round"/>
<path d="M41.45,235.5L42.03,235.77M42.03,235.77L44.95,242.64M44.95,242.64L48.93,245.67M48.93,245.67L49.51,255.29M49.51,255.29L53.01,259.41M53.01,259.41L56.4,263.39M56.4,263.39L59.32,269.16M59.32,269.16L60.96,273.83M60.96,273.83L62.24,276.17M62.24,276.17L66.21,280.7M66.21,280.7L70.3,285.24M74.85,286.48L79.53,289.64M94.94,289.91L96.81,294.44M96.81,294.44L100.78,298.29" stroke="#0c0cd6" stroke-width="2.3" fill="none" stroke-linecap="round" stroke-linejoin="round"/>
<path d="M70.9,285.24L74.25,286.48M80.13,289.64L94.34,289.91M101.38,298.29L124.95,298.7M126.15,303.79L201.8,303.79" stroke="#2a2ad0" stroke-width="1.6" fill="none"/>
<path d="M42.03,233.1v4M43.79,245.47v4M50.79,286.69v4M53.71,301.8v4M56.05,304.55v4M57.8,307.3v4M67.15,327.22v4M71.82,327.63v4M79.99,335.88v4M89.34,340.96v4M94.01,343.98v4M98.68,347.55v4M125.55,355.39v4M169.58,355.39v4" stroke="#ee0a12" stroke-width="0.9" stroke-opacity="0.75" fill="none"/><path d="M39.83,235.5h4.4M41.59,247.87h4.4M48.59,289.09h4.4M51.51,304.2h4.4M53.85,306.95h4.4M55.6,309.7h4.4M64.95,329.62h4.4M69.62,330.03h4.4M77.79,338.28h4.4M87.14,343.36h4.4M91.81,346.38h4.4M96.48,349.95h4.4M123.35,357.79h4.4M167.38,357.79h4.4" stroke="#ee0a12" stroke-width="1.6" fill="none"/>
<path d="M42.62,234.47v4M44.95,240.24v4M47.29,242.03v4M49.16,246.84v4M50.79,254.4v4M53.13,257.01v4M54.88,259.21v4M56.63,261.27v4M58.39,264.7v4M60.14,268.82v4M61.89,272.95v4M63.64,275.69v4M65.39,277.34v4M68.31,280.5v4M71.82,283.11v4M76.49,285.31v4M81.16,287.24v4M85.83,287.24v4M90.51,287.37v4M93.43,287.51v4M97.51,292.87v4M103.35,295.89v4M106.86,296.17v4M111.53,296.3v4M129.05,301.39v4M132.55,301.39v4M134.89,301.39v4M143.07,301.39v4M146.57,301.39v4M163.51,301.39v4M202.4,301.39v4" stroke="#0a0aee" stroke-width="0.9" stroke-opacity="0.75" fill="none"/><path d="M40.42,236.87h4.4M42.75,242.64h4.4M45.09,244.43h4.4M46.96,249.24h4.4M48.59,256.8h4.4M50.93,259.41h4.4M52.68,261.61h4.4M54.43,263.67h4.4M56.19,267.1h4.4M57.94,271.22h4.4M59.69,275.35h4.4M61.44,278.09h4.4M63.19,279.74h4.4M66.11,282.9h4.4M69.62,285.51h4.4M74.29,287.71h4.4M78.96,289.64h4.4M83.63,289.64h4.4M88.31,289.77h4.4M91.23,289.91h4.4M95.31,295.27h4.4M101.15,298.29h4.4M104.66,298.57h4.4M109.33,298.7h4.4M126.85,303.79h4.4M130.35,303.79h4.4M132.69,303.79h4.4M140.87,303.79h4.4M144.37,303.79h4.4M161.31,303.79h4.4M200.2,303.79h4.4" stroke="#0a0aee" stroke-width="1.6" fill="none"/>
<text transform="translate(44.6,349.3) scale(1,1.08)" font-size="10.35" fill="#111" stroke="#111" stroke-width="0.22">p&lt;0.001</text>
<text transform="translate(46.05,214.8) scale(1,1.08)" font-size="8.1" fill="#0a0a0a" stroke="#0a0a0a" stroke-width="0.22">male</text>
<path d="M68.6,211.7h9" stroke="#ee0a12" stroke-width="1.3" fill="none"/><path d="M70.9,211.5h4.4" stroke="#ee0a12" stroke-width="1.8" fill="none"/><path d="M73.1,208.5v4.6" stroke="#ee0a12" stroke-width="0.9" stroke-opacity="0.8" fill="none"/>
<text transform="translate(82.8,214.8) scale(1,1.08)" font-size="8.1" fill="#0a0a0a" stroke="#0a0a0a" stroke-width="0.22">high risk(n=83)</text>
<path d="M142.41,211.7h9" stroke="#0a0aee" stroke-width="1.3" fill="none"/><path d="M144.71,211.5h4.4" stroke="#0a0aee" stroke-width="1.8" fill="none"/><path d="M146.91,208.5v4.6" stroke="#0a0aee" stroke-width="0.9" stroke-opacity="0.8" fill="none"/>
<text transform="translate(156.61,214.8) scale(1,1.08)" font-size="8.1" fill="#0a0a0a" stroke="#0a0a0a" stroke-width="0.22">low risk(n=213)</text>
<path d="M260.9,228.7V379.95H453.1" stroke="#555555" stroke-width="1.2" fill="none"/>
<text transform="translate(257.4,376.1) scale(1,1.08)" text-anchor="end" font-size="7.6" fill="#2a2a2a" stroke="#2a2a2a" stroke-width="0.22">0.00</text>
<text transform="translate(257.4,341.75) scale(1,1.08)" text-anchor="end" font-size="7.6" fill="#2a2a2a" stroke="#2a2a2a" stroke-width="0.22">0.25</text>
<text transform="translate(257.4,307.4) scale(1,1.08)" text-anchor="end" font-size="7.6" fill="#2a2a2a" stroke="#2a2a2a" stroke-width="0.22">0.50</text>
<text transform="translate(257.4,273.05) scale(1,1.08)" text-anchor="end" font-size="7.6" fill="#2a2a2a" stroke="#2a2a2a" stroke-width="0.22">0.75</text>
<text transform="translate(257.4,238.7) scale(1,1.08)" text-anchor="end" font-size="7.6" fill="#2a2a2a" stroke="#2a2a2a" stroke-width="0.22">1.00</text>
<text transform="translate(269.85,388.6) scale(1,1.08)" text-anchor="middle" font-size="7.6" fill="#2a2a2a" stroke="#2a2a2a" stroke-width="0.22">0</text>
<text transform="translate(281.53,388.6) scale(1,1.08)" text-anchor="middle" font-size="7.6" fill="#2a2a2a" stroke="#2a2a2a" stroke-width="0.22">1</text>
<text transform="translate(293.21,388.6) scale(1,1.08)" text-anchor="middle" font-size="7.6" fill="#2a2a2a" stroke="#2a2a2a" stroke-width="0.22">2</text>
<text transform="translate(304.89,388.6) scale(1,1.08)" text-anchor="middle" font-size="7.6" fill="#2a2a2a" stroke="#2a2a2a" stroke-width="0.22">3</text>
<text transform="translate(316.57,388.6) scale(1,1.08)" text-anchor="middle" font-size="7.6" fill="#2a2a2a" stroke="#2a2a2a" stroke-width="0.22">4</text>
<text transform="translate(328.25,388.6) scale(1,1.08)" text-anchor="middle" font-size="7.6" fill="#2a2a2a" stroke="#2a2a2a" stroke-width="0.22">5</text>
<text transform="translate(339.93,388.6) scale(1,1.08)" text-anchor="middle" font-size="7.6" fill="#2a2a2a" stroke="#2a2a2a" stroke-width="0.22">6</text>
<text transform="translate(351.61,388.6) scale(1,1.08)" text-anchor="middle" font-size="7.6" fill="#2a2a2a" stroke="#2a2a2a" stroke-width="0.22">7</text>
<text transform="translate(363.29,388.6) scale(1,1.08)" text-anchor="middle" font-size="7.6" fill="#2a2a2a" stroke="#2a2a2a" stroke-width="0.22">8</text>
<text transform="translate(374.97,388.6) scale(1,1.08)" text-anchor="middle" font-size="7.6" fill="#2a2a2a" stroke="#2a2a2a" stroke-width="0.22">9</text>
<text transform="translate(386.65,388.6) scale(1,1.08)" text-anchor="middle" font-size="7.6" fill="#2a2a2a" stroke="#2a2a2a" stroke-width="0.22">10</text>
<text transform="translate(398.33,388.6) scale(1,1.08)" text-anchor="middle" font-size="7.6" fill="#2a2a2a" stroke="#2a2a2a" stroke-width="0.22">11</text>
<text transform="translate(410.01,388.6) scale(1,1.08)" text-anchor="middle" font-size="7.6" fill="#2a2a2a" stroke="#2a2a2a" stroke-width="0.22">12</text>
<text transform="translate(421.69,388.6) scale(1,1.08)" text-anchor="middle" font-size="7.6" fill="#2a2a2a" stroke="#2a2a2a" stroke-width="0.22">13</text>
<text transform="translate(433.37,388.6) scale(1,1.08)" text-anchor="middle" font-size="7.6" fill="#2a2a2a" stroke="#2a2a2a" stroke-width="0.22">14</text>
<text transform="translate(445.05,388.6) scale(1,1.08)" text-anchor="middle" font-size="7.6" fill="#2a2a2a" stroke="#2a2a2a" stroke-width="0.22">15</text>
<path d="M258.9,372.9h2.0M258.9,338.55h2.0M258.9,304.2h2.0M258.9,269.85h2.0M258.9,235.5h2.0M269.85,379.95v2.0M281.53,379.95v2.0M293.21,379.95v2.0M304.89,379.95v2.0M316.57,379.95v2.0M328.25,379.95v2.0M339.93,379.95v2.0M351.61,379.95v2.0M363.29,379.95v2.0M374.97,379.95v2.0M386.65,379.95v2.0M398.33,379.95v2.0M410.01,379.95v2.0M421.69,379.95v2.0M433.37,379.95v2.0M445.05,379.95v2.0" stroke="#333" stroke-width="1.1" fill="none"/>
<text transform="translate(357.3,398.6) scale(1,1.08)" text-anchor="middle" font-size="8.85" fill="#0a0a0a" stroke="#0a0a0a" stroke-width="0.22">Time(years)</text>
<text transform="translate(239.1,304.5) rotate(-90) scale(1,1.08)" text-anchor="middle" font-size="8.85" fill="#0a0a0a" stroke="#0a0a0a" stroke-width="0.22">Survival probability</text>
<path d="M269.85,235.5L270.43,236.19L271.6,243.47L272.42,253.77L274.64,259.68L276.86,265.73L277.79,294.72L278.49,295.27L281.06,300.49L282.46,308.46L285.73,312.99L287.14,320.14L287.72,325.5L290.29,326.18L290.99,330.17L303.49,330.72L303.72,336.08L318.91,336.08L319.26,341.85L324.51,341.85L324.75,351.74L397.05,351.74" stroke="#d22024" stroke-width="1.6" fill="none" stroke-linejoin="round"/>
<path d="M269.85,235.5L275.34,243.47L279.08,254.6L284.22,258.31L288.77,263.39L290.99,269.44L293.21,276.72L297.65,279.74L302.09,282.63L305.71,284.28L322.06,284.28L324.28,291.15L331.87,291.15L331.87,296.51L370.41,296.51L370.41,308.73L431.73,308.73" stroke="#0c0cd6" stroke-width="1.6" fill="none" stroke-linejoin="round"/>
<path d="M269.85,235.5L275.34,243.47M275.34,243.47L279.08,254.6M279.08,254.6L284.22,258.31M284.22,258.31L288.77,263.39M288.77,263.39L290.99,269.44M290.99,269.44L293.21,276.72M293.21,276.72L297.65,279.74M297.65,279.74L302.09,282.63M302.09,282.63L305.71,284.28M322.06,284.28L324.28,291.15" stroke="#0c0cd6" stroke-width="2.3" fill="none" stroke-linecap="round" stroke-linejoin="round"/>
<path d="M306.31,284.28L321.46,284.28M324.88,291.15L331.27,291.15M332.47,296.51L369.81,296.51M371.01,308.73L431.13,308.73" stroke="#2a2ad0" stroke-width="1.6" fill="none"/>
<path d="M270.43,233.1v4M271.6,241.34v4M273.35,253.71v4M279.78,295.62v4M282.11,304.55v4M283.28,307.3v4M285.03,310.04v4M286.2,314.17v4M286.79,316.91v4M296.13,328.04v4M308.98,333.68v4M322.41,339.45v4M325.33,349.34v4M397.05,349.34v4" stroke="#ee0a12" stroke-width="0.9" stroke-opacity="0.75" fill="none"/><path d="M268.23,235.5h4.4M269.4,243.74h4.4M271.15,256.11h4.4M277.58,298.02h4.4M279.91,306.95h4.4M281.08,309.7h4.4M282.83,312.44h4.4M284,316.57h4.4M284.59,319.31h4.4M293.93,330.44h4.4M306.78,336.08h4.4M320.21,341.85h4.4M323.13,351.74h4.4M394.85,351.74h4.4" stroke="#ee0a12" stroke-width="1.6" fill="none"/>
<path d="M271.02,234.47v4M275.69,241.34v4M280.36,253.71v4M282.7,255.08v4M286.2,257.83v4M289.71,263.33v4M292.04,270.2v4M295.55,275.69v4M300.22,279.13v4M303.72,281.19v4M309.56,281.88v4M315.4,281.88v4M317.74,281.88v4M320.07,281.88v4M325.91,288.75v4M329.42,288.75v4M335.26,293.83v4M342.27,293.83v4M353.95,293.83v4M363.29,293.83v4M377.31,306.33v4M391.91,306.33v4M428.7,306.33v4M431.73,306.33v4" stroke="#0a0aee" stroke-width="0.9" stroke-opacity="0.75" fill="none"/><path d="M268.82,236.87h4.4M273.49,243.74h4.4M278.16,256.11h4.4M280.5,257.48h4.4M284,260.23h4.4M287.51,265.73h4.4M289.84,272.6h4.4M293.35,278.09h4.4M298.02,281.53h4.4M301.52,283.59h4.4M307.36,284.28h4.4M313.2,284.28h4.4M315.54,284.28h4.4M317.87,284.28h4.4M323.71,291.15h4.4M327.22,291.15h4.4M333.06,296.23h4.4M340.07,296.23h4.4M351.75,296.23h4.4M361.09,296.23h4.4M375.11,308.73h4.4M389.71,308.73h4.4M426.5,308.73h4.4M429.53,308.73h4.4" stroke="#0a0aee" stroke-width="1.6" fill="none"/>
<text transform="translate(273,349.3) scale(1,1.08)" font-size="10.35" fill="#111" stroke="#111" stroke-width="0.22">p&lt;0.001</text>
<text transform="translate(277.6,214.8) scale(1,1.08)" font-size="8.1" fill="#0a0a0a" stroke="#0a0a0a" stroke-width="0.22">M0</text>
<path d="M293.85,211.7h9" stroke="#ee0a12" stroke-width="1.3" fill="none"/><path d="M296.15,211.5h4.4" stroke="#ee0a12" stroke-width="1.8" fill="none"/><path d="M298.35,208.5v4.6" stroke="#ee0a12" stroke-width="0.9" stroke-opacity="0.8" fill="none"/>
<text transform="translate(308.05,214.8) scale(1,1.08)" font-size="8.1" fill="#0a0a0a" stroke="#0a0a0a" stroke-width="0.22">high risk(n=43)</text>
<path d="M367.65,211.7h9" stroke="#0a0aee" stroke-width="1.3" fill="none"/><path d="M369.95,211.5h4.4" stroke="#0a0aee" stroke-width="1.8" fill="none"/><path d="M372.15,208.5v4.6" stroke="#0a0aee" stroke-width="0.9" stroke-opacity="0.8" fill="none"/>
<text transform="translate(381.85,214.8) scale(1,1.08)" font-size="8.1" fill="#0a0a0a" stroke="#0a0a0a" stroke-width="0.22">low risk(n=151)</text>
<path d="M489.3,228.7V379.95H681.5" stroke="#555555" stroke-width="1.2" fill="none"/>
<text transform="translate(485.8,376.1) scale(1,1.08)" text-anchor="end" font-size="7.6" fill="#2a2a2a" stroke="#2a2a2a" stroke-width="0.22">0.00</text>
<text transform="translate(485.8,341.75) scale(1,1.08)" text-anchor="end" font-size="7.6" fill="#2a2a2a" stroke="#2a2a2a" stroke-width="0.22">0.25</text>
<text transform="translate(485.8,307.4) scale(1,1.08)" text-anchor="end" font-size="7.6" fill="#2a2a2a" stroke="#2a2a2a" stroke-width="0.22">0.50</text>
<text transform="translate(485.8,273.05) scale(1,1.08)" text-anchor="end" font-size="7.6" fill="#2a2a2a" stroke="#2a2a2a" stroke-width="0.22">0.75</text>
<text transform="translate(485.8,238.7) scale(1,1.08)" text-anchor="end" font-size="7.6" fill="#2a2a2a" stroke="#2a2a2a" stroke-width="0.22">1.00</text>
<text transform="translate(498.25,388.6) scale(1,1.08)" text-anchor="middle" font-size="7.6" fill="#2a2a2a" stroke="#2a2a2a" stroke-width="0.22">0</text>
<text transform="translate(509.93,388.6) scale(1,1.08)" text-anchor="middle" font-size="7.6" fill="#2a2a2a" stroke="#2a2a2a" stroke-width="0.22">1</text>
<text transform="translate(521.61,388.6) scale(1,1.08)" text-anchor="middle" font-size="7.6" fill="#2a2a2a" stroke="#2a2a2a" stroke-width="0.22">2</text>
<text transform="translate(533.29,388.6) scale(1,1.08)" text-anchor="middle" font-size="7.6" fill="#2a2a2a" stroke="#2a2a2a" stroke-width="0.22">3</text>
<text transform="translate(544.97,388.6) scale(1,1.08)" text-anchor="middle" font-size="7.6" fill="#2a2a2a" stroke="#2a2a2a" stroke-width="0.22">4</text>
<text transform="translate(556.65,388.6) scale(1,1.08)" text-anchor="middle" font-size="7.6" fill="#2a2a2a" stroke="#2a2a2a" stroke-width="0.22">5</text>
<text transform="translate(568.33,388.6) scale(1,1.08)" text-anchor="middle" font-size="7.6" fill="#2a2a2a" stroke="#2a2a2a" stroke-width="0.22">6</text>
<text transform="translate(580.01,388.6) scale(1,1.08)" text-anchor="middle" font-size="7.6" fill="#2a2a2a" stroke="#2a2a2a" stroke-width="0.22">7</text>
<text transform="translate(591.69,388.6) scale(1,1.08)" text-anchor="middle" font-size="7.6" fill="#2a2a2a" stroke="#2a2a2a" stroke-width="0.22">8</text>
<text transform="translate(603.37,388.6) scale(1,1.08)" text-anchor="middle" font-size="7.6" fill="#2a2a2a" stroke="#2a2a2a" stroke-width="0.22">9</text>
<text transform="translate(615.05,388.6) scale(1,1.08)" text-anchor="middle" font-size="7.6" fill="#2a2a2a" stroke="#2a2a2a" stroke-width="0.22">10</text>
<text transform="translate(626.73,388.6) scale(1,1.08)" text-anchor="middle" font-size="7.6" fill="#2a2a2a" stroke="#2a2a2a" stroke-width="0.22">11</text>
<text transform="translate(638.41,388.6) scale(1,1.08)" text-anchor="middle" font-size="7.6" fill="#2a2a2a" stroke="#2a2a2a" stroke-width="0.22">12</text>
<text transform="translate(650.09,388.6) scale(1,1.08)" text-anchor="middle" font-size="7.6" fill="#2a2a2a" stroke="#2a2a2a" stroke-width="0.22">13</text>
<text transform="translate(661.77,388.6) scale(1,1.08)" text-anchor="middle" font-size="7.6" fill="#2a2a2a" stroke="#2a2a2a" stroke-width="0.22">14</text>
<text transform="translate(673.45,388.6) scale(1,1.08)" text-anchor="middle" font-size="7.6" fill="#2a2a2a" stroke="#2a2a2a" stroke-width="0.22">15</text>
<path d="M487.3,372.9h2.0M487.3,338.55h2.0M487.3,304.2h2.0M487.3,269.85h2.0M487.3,235.5h2.0M498.25,379.95v2.0M509.93,379.95v2.0M521.61,379.95v2.0M533.29,379.95v2.0M544.97,379.95v2.0M556.65,379.95v2.0M568.33,379.95v2.0M580.01,379.95v2.0M591.69,379.95v2.0M603.37,379.95v2.0M615.05,379.95v2.0M626.73,379.95v2.0M638.41,379.95v2.0M650.09,379.95v2.0M661.77,379.95v2.0M673.45,379.95v2.0" stroke="#333" stroke-width="1.1" fill="none"/>
<text transform="translate(585.7,398.6) scale(1,1.08)" text-anchor="middle" font-size="8.85" fill="#0a0a0a" stroke="#0a0a0a" stroke-width="0.22">Time(years)</text>
<text transform="translate(467.5,304.5) rotate(-90) scale(1,1.08)" text-anchor="middle" font-size="8.85" fill="#0a0a0a" stroke="#0a0a0a" stroke-width="0.22">Survival probability</text>
<path d="M498.25,235.5L498.83,236.19L500.47,238.93L502.69,253.09L505.61,272.19L507.83,280.43L509.35,288.54L510.05,300.49L512.27,304.89L514.49,312.86L518.69,321.24L522.78,328.25L524.3,330.58L532.12,330.58L532.12,339.1L587.95,339.1L587.95,349.68L626.15,349.68" stroke="#d22024" stroke-width="1.6" fill="none" stroke-linejoin="round"/>
<path d="M498.25,235.5L501.75,238.93L504.91,240.86L506.08,250.75L511.33,252.95L515.89,259.96L520.44,264.63L525.11,269.16L532.01,273.42L549.64,273.42L556.3,280.02L557.12,281.94L560.39,283.86L562.37,287.02L598.93,287.02L598.93,301.45L660.02,301.45" stroke="#0c0cd6" stroke-width="1.6" fill="none" stroke-linejoin="round"/>
<path d="M498.25,235.5L501.75,238.93M501.75,238.93L504.91,240.86M504.91,240.86L506.08,250.75M506.08,250.75L511.33,252.95M511.33,252.95L515.89,259.96M515.89,259.96L520.44,264.63M520.44,264.63L525.11,269.16M525.11,269.16L532.01,273.42M549.64,273.42L556.3,280.02M556.3,280.02L557.12,281.94M557.12,281.94L560.39,283.86M560.39,283.86L562.37,287.02" stroke="#0c0cd6" stroke-width="2.3" fill="none" stroke-linecap="round" stroke-linejoin="round"/>
<path d="M532.61,273.42L549.04,273.42M562.97,287.02L598.33,287.02M599.53,301.45L659.42,301.45" stroke="#2a2ad0" stroke-width="1.6" fill="none"/>
<path d="M498.83,233.1v4M505.26,268.82v4M507.59,277.07v4M511.1,300.43v4M513.43,307.3v4M515.77,312.79v4M518.11,318.29v4M520.44,322.41v4M522.78,325.85v4M549.64,336.7v4M608.04,347.28v4M626.15,347.28v4" stroke="#ee0a12" stroke-width="0.9" stroke-opacity="0.75" fill="none"/><path d="M496.63,235.5h4.4M503.06,271.22h4.4M505.39,279.47h4.4M508.9,302.83h4.4M511.23,309.7h4.4M513.57,315.19h4.4M515.91,320.69h4.4M518.24,324.81h4.4M520.58,328.25h4.4M547.44,339.1h4.4M605.84,349.68h4.4M623.95,349.68h4.4" stroke="#ee0a12" stroke-width="1.6" fill="none"/>
<path d="M499.42,234.47v4M501.75,237.22v4M504.09,238.6v4M508.76,249.59v4M512.27,252.34v4M515.77,257.83v4M519.27,261.95v4M522.78,264.7v4M526.28,267.45v4M530.95,270.2v4M539.13,271.02v4M543.8,271.02v4M546.14,271.02v4M548.47,271.02v4M553.15,275.69v4M556.65,279.82v4M567.16,284.62v4M570.67,284.62v4M583.51,284.62v4M587.02,284.62v4M589.35,284.62v4M605.71,299.05v4M620.54,299.05v4M657.1,299.05v4M660.02,299.05v4" stroke="#0a0aee" stroke-width="0.9" stroke-opacity="0.75" fill="none"/><path d="M497.22,236.87h4.4M499.55,239.62h4.4M501.89,241h4.4M506.56,251.99h4.4M510.07,254.74h4.4M513.57,260.23h4.4M517.07,264.35h4.4M520.58,267.1h4.4M524.08,269.85h4.4M528.75,272.6h4.4M536.93,273.42h4.4M541.6,273.42h4.4M543.94,273.42h4.4M546.27,273.42h4.4M550.95,278.09h4.4M554.45,282.22h4.4M564.96,287.02h4.4M568.47,287.02h4.4M581.31,287.02h4.4M584.82,287.02h4.4M587.15,287.02h4.4M603.51,301.45h4.4M618.34,301.45h4.4M654.9,301.45h4.4M657.82,301.45h4.4" stroke="#0a0aee" stroke-width="1.6" fill="none"/>
<text transform="translate(501.4,349.3) scale(1,1.08)" font-size="10.35" fill="#111" stroke="#111" stroke-width="0.22">p&lt;0.001</text>
<text transform="translate(506.45,214.8) scale(1,1.08)" font-size="8.1" fill="#0a0a0a" stroke="#0a0a0a" stroke-width="0.22">N0</text>
<path d="M521.8,211.7h9" stroke="#ee0a12" stroke-width="1.3" fill="none"/><path d="M524.1,211.5h4.4" stroke="#ee0a12" stroke-width="1.8" fill="none"/><path d="M526.3,208.5v4.6" stroke="#ee0a12" stroke-width="0.9" stroke-opacity="0.8" fill="none"/>
<text transform="translate(536,214.8) scale(1,1.08)" font-size="8.1" fill="#0a0a0a" stroke="#0a0a0a" stroke-width="0.22">high risk(n=54)</text>
<path d="M595.6,211.7h9" stroke="#0a0aee" stroke-width="1.3" fill="none"/><path d="M597.9,211.5h4.4" stroke="#0a0aee" stroke-width="1.8" fill="none"/><path d="M600.1,208.5v4.6" stroke="#0a0aee" stroke-width="0.9" stroke-opacity="0.8" fill="none"/>
<text transform="translate(609.8,214.8) scale(1,1.08)" font-size="8.1" fill="#0a0a0a" stroke="#0a0a0a" stroke-width="0.22">low risk(n=179)</text>
<path d="M32.5,433.8V585.05H224.7" stroke="#555555" stroke-width="1.2" fill="none"/>
<text transform="translate(29,581.2) scale(1,1.08)" text-anchor="end" font-size="7.6" fill="#2a2a2a" stroke="#2a2a2a" stroke-width="0.22">0.00</text>
<text transform="translate(29,546.85) scale(1,1.08)" text-anchor="end" font-size="7.6" fill="#2a2a2a" stroke="#2a2a2a" stroke-width="0.22">0.25</text>
<text transform="translate(29,512.5) scale(1,1.08)" text-anchor="end" font-size="7.6" fill="#2a2a2a" stroke="#2a2a2a" stroke-width="0.22">0.50</text>
<text transform="translate(29,478.15) scale(1,1.08)" text-anchor="end" font-size="7.6" fill="#2a2a2a" stroke="#2a2a2a" stroke-width="0.22">0.75</text>
<text transform="translate(29,443.8) scale(1,1.08)" text-anchor="end" font-size="7.6" fill="#2a2a2a" stroke="#2a2a2a" stroke-width="0.22">1.00</text>
<text transform="translate(41.45,593.7) scale(1,1.08)" text-anchor="middle" font-size="7.6" fill="#2a2a2a" stroke="#2a2a2a" stroke-width="0.22">0</text>
<text transform="translate(53.13,593.7) scale(1,1.08)" text-anchor="middle" font-size="7.6" fill="#2a2a2a" stroke="#2a2a2a" stroke-width="0.22">1</text>
<text transform="translate(64.81,593.7) scale(1,1.08)" text-anchor="middle" font-size="7.6" fill="#2a2a2a" stroke="#2a2a2a" stroke-width="0.22">2</text>
<text transform="translate(76.49,593.7) scale(1,1.08)" text-anchor="middle" font-size="7.6" fill="#2a2a2a" stroke="#2a2a2a" stroke-width="0.22">3</text>
<text transform="translate(88.17,593.7) scale(1,1.08)" text-anchor="middle" font-size="7.6" fill="#2a2a2a" stroke="#2a2a2a" stroke-width="0.22">4</text>
<text transform="translate(99.85,593.7) scale(1,1.08)" text-anchor="middle" font-size="7.6" fill="#2a2a2a" stroke="#2a2a2a" stroke-width="0.22">5</text>
<text transform="translate(111.53,593.7) scale(1,1.08)" text-anchor="middle" font-size="7.6" fill="#2a2a2a" stroke="#2a2a2a" stroke-width="0.22">6</text>
<text transform="translate(123.21,593.7) scale(1,1.08)" text-anchor="middle" font-size="7.6" fill="#2a2a2a" stroke="#2a2a2a" stroke-width="0.22">7</text>
<text transform="translate(134.89,593.7) scale(1,1.08)" text-anchor="middle" font-size="7.6" fill="#2a2a2a" stroke="#2a2a2a" stroke-width="0.22">8</text>
<text transform="translate(146.57,593.7) scale(1,1.08)" text-anchor="middle" font-size="7.6" fill="#2a2a2a" stroke="#2a2a2a" stroke-width="0.22">9</text>
<text transform="translate(158.25,593.7) scale(1,1.08)" text-anchor="middle" font-size="7.6" fill="#2a2a2a" stroke="#2a2a2a" stroke-width="0.22">10</text>
<text transform="translate(169.93,593.7) scale(1,1.08)" text-anchor="middle" font-size="7.6" fill="#2a2a2a" stroke="#2a2a2a" stroke-width="0.22">11</text>
<text transform="translate(181.61,593.7) scale(1,1.08)" text-anchor="middle" font-size="7.6" fill="#2a2a2a" stroke="#2a2a2a" stroke-width="0.22">12</text>
<text transform="translate(193.29,593.7) scale(1,1.08)" text-anchor="middle" font-size="7.6" fill="#2a2a2a" stroke="#2a2a2a" stroke-width="0.22">13</text>
<text transform="translate(204.97,593.7) scale(1,1.08)" text-anchor="middle" font-size="7.6" fill="#2a2a2a" stroke="#2a2a2a" stroke-width="0.22">14</text>
<text transform="translate(216.65,593.7) scale(1,1.08)" text-anchor="middle" font-size="7.6" fill="#2a2a2a" stroke="#2a2a2a" stroke-width="0.22">15</text>
<path d="M30.5,578h2.0M30.5,543.65h2.0M30.5,509.3h2.0M30.5,474.95h2.0M30.5,440.6h2.0M41.45,585.05v2.0M53.13,585.05v2.0M64.81,585.05v2.0M76.49,585.05v2.0M88.17,585.05v2.0M99.85,585.05v2.0M111.53,585.05v2.0M123.21,585.05v2.0M134.89,585.05v2.0M146.57,585.05v2.0M158.25,585.05v2.0M169.93,585.05v2.0M181.61,585.05v2.0M193.29,585.05v2.0M204.97,585.05v2.0M216.65,585.05v2.0" stroke="#333" stroke-width="1.1" fill="none"/>
<text transform="translate(128.9,603.7) scale(1,1.08)" text-anchor="middle" font-size="8.85" fill="#0a0a0a" stroke="#0a0a0a" stroke-width="0.22">Time(years)</text>
<text transform="translate(10.7,509.6) rotate(-90) scale(1,1.08)" text-anchor="middle" font-size="8.85" fill="#0a0a0a" stroke="#0a0a0a" stroke-width="0.22">Survival probability</text>
<path d="M41.45,440.6L42.03,444.72L43.09,455.3L44.72,470.42L47.06,488.96L48.46,495.56L50.44,507.51L51.96,509.3L53.71,520.29L57.1,523.86L59.09,524.55L59.67,527.85L60.96,533.76L63.06,535.13L63.64,541.73L66.91,542.28L68.31,543.65L72.17,544.34L74.15,545.57L78.13,547.63L85.95,547.63L86.65,551.48L89.34,552.17L90.62,558.76L95.76,558.76L96.46,563.44L105.69,563.44L105.69,570.58L125.43,570.58" stroke="#d22024" stroke-width="1.6" fill="none" stroke-linejoin="round"/>
<path d="M41.45,440.6L45.19,451.45L47.29,459.56L51.85,477.29L56.28,488.55L59.9,501.06L65.16,509.99L68.9,516.03L69.6,516.17L77.42,516.17L77.42,521.12L84.43,521.12L84.43,525.93L126.01,525.93L126.01,539.53L202.4,539.53" stroke="#0c0cd6" stroke-width="1.6" fill="none" stroke-linejoin="round"/>
<path d="M41.45,440.6L45.19,451.45M45.19,451.45L47.29,459.56M47.29,459.56L51.85,477.29M51.85,477.29L56.28,488.55M56.28,488.55L59.9,501.06M59.9,501.06L65.16,509.99M65.16,509.99L68.9,516.03" stroke="#0c0cd6" stroke-width="2.3" fill="none" stroke-linecap="round" stroke-linejoin="round"/>
<path d="M70.2,516.17L76.82,516.17M78.02,521.12L83.83,521.12M85.03,525.93L125.41,525.93M126.61,539.53L201.8,539.53" stroke="#2a2ad0" stroke-width="1.6" fill="none"/>
<path d="M43.79,456.06v4M45.54,472.55v4M55.47,519.27v4M58.39,522.01v4M70.65,541.8v4M75.91,544v4M79.99,545.23v4M103.12,561.04v4M125.43,568.18v4" stroke="#ee0a12" stroke-width="0.9" stroke-opacity="0.75" fill="none"/><path d="M41.59,458.46h4.4M43.34,474.95h4.4M53.27,521.67h4.4M56.19,524.41h4.4M68.45,544.2h4.4M73.71,546.4h4.4M77.79,547.63h4.4M100.92,563.44h4.4M123.23,570.58h4.4" stroke="#ee0a12" stroke-width="1.6" fill="none"/>
<path d="M42.03,438.2v4M43.79,445.07v4M45.54,450.57v4M47.29,457.44v4M51.96,475.3v4M54.3,480.79v4M56.63,487.66v4M58.97,495.91v4M61.31,501.4v4M64.81,506.9v4M67.15,511.02v4M71.82,513.77v4M79.99,518.72v4M82.33,518.72v4M90.74,523.53v4M94.01,523.53v4M105.81,523.53v4M109.19,523.53v4M150.54,537.13v4M202.4,537.13v4" stroke="#0a0aee" stroke-width="0.9" stroke-opacity="0.75" fill="none"/><path d="M39.83,440.6h4.4M41.59,447.47h4.4M43.34,452.97h4.4M45.09,459.84h4.4M49.76,477.7h4.4M52.1,483.19h4.4M54.43,490.06h4.4M56.77,498.31h4.4M59.11,503.8h4.4M62.61,509.3h4.4M64.95,513.42h4.4M69.62,516.17h4.4M77.79,521.12h4.4M80.13,521.12h4.4M88.54,525.93h4.4M91.81,525.93h4.4M103.61,525.93h4.4M106.99,525.93h4.4M148.34,539.53h4.4M200.2,539.53h4.4" stroke="#0a0aee" stroke-width="1.6" fill="none"/>
<text transform="translate(44.6,554.4) scale(1,1.08)" font-size="10.35" fill="#111" stroke="#111" stroke-width="0.22">p&lt;0.001</text>
<text transform="translate(36.82,420.6) scale(1,1.08)" font-size="8.1" fill="#0a0a0a" stroke="#0a0a0a" stroke-width="0.22">N1+N2+N3</text>
<path d="M82.34,417.2h9" stroke="#ee0a12" stroke-width="1.3" fill="none"/><path d="M84.64,417h4.4" stroke="#ee0a12" stroke-width="1.8" fill="none"/><path d="M86.84,414v4.6" stroke="#ee0a12" stroke-width="0.9" stroke-opacity="0.8" fill="none"/>
<text transform="translate(96.54,420.6) scale(1,1.08)" font-size="8.1" fill="#0a0a0a" stroke="#0a0a0a" stroke-width="0.22">high risk(n=51)</text>
<path d="M156.14,417.2h9" stroke="#0a0aee" stroke-width="1.3" fill="none"/><path d="M158.44,417h4.4" stroke="#0a0aee" stroke-width="1.8" fill="none"/><path d="M160.64,414v4.6" stroke="#0a0aee" stroke-width="0.9" stroke-opacity="0.8" fill="none"/>
<text transform="translate(170.34,420.6) scale(1,1.08)" font-size="8.1" fill="#0a0a0a" stroke="#0a0a0a" stroke-width="0.22">low risk(n=74)</text>
<path d="M260.9,433.8V585.05H453.1" stroke="#555555" stroke-width="1.2" fill="none"/>
<text transform="translate(257.4,581.2) scale(1,1.08)" text-anchor="end" font-size="7.6" fill="#2a2a2a" stroke="#2a2a2a" stroke-width="0.22">0.00</text>
<text transform="translate(257.4,546.85) scale(1,1.08)" text-anchor="end" font-size="7.6" fill="#2a2a2a" stroke="#2a2a2a" stroke-width="0.22">0.25</text>
<text transform="translate(257.4,512.5) scale(1,1.08)" text-anchor="end" font-size="7.6" fill="#2a2a2a" stroke="#2a2a2a" stroke-width="0.22">0.50</text>
<text transform="translate(257.4,478.15) scale(1,1.08)" text-anchor="end" font-size="7.6" fill="#2a2a2a" stroke="#2a2a2a" stroke-width="0.22">0.75</text>
<text transform="translate(257.4,443.8) scale(1,1.08)" text-anchor="end" font-size="7.6" fill="#2a2a2a" stroke="#2a2a2a" stroke-width="0.22">1.00</text>
<text transform="translate(269.85,593.7) scale(1,1.08)" text-anchor="middle" font-size="7.6" fill="#2a2a2a" stroke="#2a2a2a" stroke-width="0.22">0</text>
<text transform="translate(281.53,593.7) scale(1,1.08)" text-anchor="middle" font-size="7.6" fill="#2a2a2a" stroke="#2a2a2a" stroke-width="0.22">1</text>
<text transform="translate(293.21,593.7) scale(1,1.08)" text-anchor="middle" font-size="7.6" fill="#2a2a2a" stroke="#2a2a2a" stroke-width="0.22">2</text>
<text transform="translate(304.89,593.7) scale(1,1.08)" text-anchor="middle" font-size="7.6" fill="#2a2a2a" stroke="#2a2a2a" stroke-width="0.22">3</text>
<text transform="translate(316.57,593.7) scale(1,1.08)" text-anchor="middle" font-size="7.6" fill="#2a2a2a" stroke="#2a2a2a" stroke-width="0.22">4</text>
<text transform="translate(328.25,593.7) scale(1,1.08)" text-anchor="middle" font-size="7.6" fill="#2a2a2a" stroke="#2a2a2a" stroke-width="0.22">5</text>
<text transform="translate(339.93,593.7) scale(1,1.08)" text-anchor="middle" font-size="7.6" fill="#2a2a2a" stroke="#2a2a2a" stroke-width="0.22">6</text>
<text transform="translate(351.61,593.7) scale(1,1.08)" text-anchor="middle" font-size="7.6" fill="#2a2a2a" stroke="#2a2a2a" stroke-width="0.22">7</text>
<text transform="translate(363.29,593.7) scale(1,1.08)" text-anchor="middle" font-size="7.6" fill="#2a2a2a" stroke="#2a2a2a" stroke-width="0.22">8</text>
<text transform="translate(374.97,593.7) scale(1,1.08)" text-anchor="middle" font-size="7.6" fill="#2a2a2a" stroke="#2a2a2a" stroke-width="0.22">9</text>
<text transform="translate(386.65,593.7) scale(1,1.08)" text-anchor="middle" font-size="7.6" fill="#2a2a2a" stroke="#2a2a2a" stroke-width="0.22">10</text>
<text transform="translate(398.33,593.7) scale(1,1.08)" text-anchor="middle" font-size="7.6" fill="#2a2a2a" stroke="#2a2a2a" stroke-width="0.22">11</text>
<text transform="translate(410.01,593.7) scale(1,1.08)" text-anchor="middle" font-size="7.6" fill="#2a2a2a" stroke="#2a2a2a" stroke-width="0.22">12</text>
<text transform="translate(421.69,593.7) scale(1,1.08)" text-anchor="middle" font-size="7.6" fill="#2a2a2a" stroke="#2a2a2a" stroke-width="0.22">13</text>
<text transform="translate(433.37,593.7) scale(1,1.08)" text-anchor="middle" font-size="7.6" fill="#2a2a2a" stroke="#2a2a2a" stroke-width="0.22">14</text>
<text transform="translate(445.05,593.7) scale(1,1.08)" text-anchor="middle" font-size="7.6" fill="#2a2a2a" stroke="#2a2a2a" stroke-width="0.22">15</text>
<path d="M258.9,578h2.0M258.9,543.65h2.0M258.9,509.3h2.0M258.9,474.95h2.0M258.9,440.6h2.0M269.85,585.05v2.0M281.53,585.05v2.0M293.21,585.05v2.0M304.89,585.05v2.0M316.57,585.05v2.0M328.25,585.05v2.0M339.93,585.05v2.0M351.61,585.05v2.0M363.29,585.05v2.0M374.97,585.05v2.0M386.65,585.05v2.0M398.33,585.05v2.0M410.01,585.05v2.0M421.69,585.05v2.0M433.37,585.05v2.0M445.05,585.05v2.0" stroke="#333" stroke-width="1.1" fill="none"/>
<text transform="translate(357.3,603.7) scale(1,1.08)" text-anchor="middle" font-size="8.85" fill="#0a0a0a" stroke="#0a0a0a" stroke-width="0.22">Time(years)</text>
<text transform="translate(239.1,509.6) rotate(-90) scale(1,1.08)" text-anchor="middle" font-size="8.85" fill="#0a0a0a" stroke="#0a0a0a" stroke-width="0.22">Survival probability</text>
<path d="M269.85,440.6L271.02,441.97L271.6,449.26L273.47,463.82L275.22,475.36L277.44,490.06L278.26,499L280.71,504.77L281.88,511.36L282.7,517.96L285.15,523.73L287.72,528.67L288.89,536.09L291.69,541.04L296.25,544.34L300.92,546.26L303.49,550.25L305.47,554.23L314.58,554.23L315.29,556.84L318.56,558.08L320.66,559.45L324.51,559.45L325.21,563.44L333.74,563.44L334.32,568.66L397.05,568.66" stroke="#d22024" stroke-width="1.6" fill="none" stroke-linejoin="round"/>
<path d="M269.85,440.6L273.35,448.29L276.27,457.09L278.73,463.82L283.28,473.03L287.95,484.57L292.51,490.34L298.23,496.11L303.96,499.54L307.58,502.43L312.25,503.39L312.25,505.18L322.76,505.18L324.51,510.95L354.3,510.95L354.3,515.07L370.06,515.07L370.06,523.31L431.73,523.31" stroke="#0c0cd6" stroke-width="1.6" fill="none" stroke-linejoin="round"/>
<path d="M269.85,440.6L273.35,448.29M273.35,448.29L276.27,457.09M276.27,457.09L278.73,463.82M278.73,463.82L283.28,473.03M283.28,473.03L287.95,484.57M287.95,484.57L292.51,490.34M292.51,490.34L298.23,496.11M298.23,496.11L303.96,499.54M303.96,499.54L307.58,502.43M322.76,505.18L324.51,510.95" stroke="#0c0cd6" stroke-width="2.3" fill="none" stroke-linecap="round" stroke-linejoin="round"/>
<path d="M308.18,502.43L311.65,503.39M312.85,505.18L322.16,505.18M325.11,510.95L353.7,510.95M354.9,515.07L369.46,515.07M370.66,523.31L431.13,523.31" stroke="#2a2ad0" stroke-width="1.6" fill="none"/>
<path d="M271.02,439.57v4M271.6,446.44v4M273.35,460.18v4M277.79,493.16v4M281.88,509.65v4M285.03,520.64v4M286.79,524.76v4M292.04,538.78v4M294.38,540.56v4M299.05,543.04v4M302.55,546.75v4M308.39,551.83v4M316.57,554.99v4M320.07,556.78v4M330.59,561.04v4M353.95,566.26v4M397.05,566.26v4" stroke="#ee0a12" stroke-width="0.9" stroke-opacity="0.75" fill="none"/><path d="M268.82,441.97h4.4M269.4,448.84h4.4M271.15,462.58h4.4M275.59,495.56h4.4M279.68,512.05h4.4M282.83,523.04h4.4M284.59,527.16h4.4M289.84,541.18h4.4M292.18,542.96h4.4M296.85,545.44h4.4M300.35,549.15h4.4M306.19,554.23h4.4M314.37,557.39h4.4M317.87,559.18h4.4M328.39,563.44h4.4M351.75,568.66h4.4M394.85,568.66h4.4" stroke="#ee0a12" stroke-width="1.6" fill="none"/>
<path d="M270.43,438.2v4M272.19,443.7v4M274.52,450.57v4M276.86,456.06v4M279.19,462.93v4M281.53,467.05v4M283.87,471.86v4M286.2,478.05v4M288.54,482.86v4M290.87,486.29v4M294.38,489.73v4M297.88,493.16v4M301.39,495.91v4M304.89,497.97v4M308.39,500.72v4M315.05,502.78v4M317.74,502.78v4M321.83,502.78v4M326.73,508.55v4M331.4,508.55v4M333.16,508.55v4M336.54,508.55v4M337.71,508.55v4M342.38,508.55v4M358.38,512.67v4M361.3,512.67v4M363.64,512.67v4M365.98,512.67v4M377.07,520.91v4M391.91,520.91v4M428.7,520.91v4M431.73,520.91v4" stroke="#0a0aee" stroke-width="0.9" stroke-opacity="0.75" fill="none"/><path d="M268.23,440.6h4.4M269.99,446.1h4.4M272.32,452.97h4.4M274.66,458.46h4.4M276.99,465.33h4.4M279.33,469.45h4.4M281.67,474.26h4.4M284,480.45h4.4M286.34,485.25h4.4M288.67,488.69h4.4M292.18,492.12h4.4M295.68,495.56h4.4M299.19,498.31h4.4M302.69,500.37h4.4M306.19,503.12h4.4M312.85,505.18h4.4M315.54,505.18h4.4M319.63,505.18h4.4M324.53,510.95h4.4M329.2,510.95h4.4M330.96,510.95h4.4M334.34,510.95h4.4M335.51,510.95h4.4M340.18,510.95h4.4M356.18,515.07h4.4M359.1,515.07h4.4M361.44,515.07h4.4M363.78,515.07h4.4M374.87,523.31h4.4M389.71,523.31h4.4M426.5,523.31h4.4M429.53,523.31h4.4" stroke="#0a0aee" stroke-width="1.6" fill="none"/>
<text transform="translate(273,554.4) scale(1,1.08)" font-size="10.35" fill="#111" stroke="#111" stroke-width="0.22">p&lt;0.001</text>
<text transform="translate(238.03,420.6) scale(1,1.08)" font-size="8.1" fill="#0a0a0a" stroke="#0a0a0a" stroke-width="0.22">Stage III+ Stage IV</text>
<path d="M311.25,417.2h9" stroke="#ee0a12" stroke-width="1.3" fill="none"/><path d="M313.55,417h4.4" stroke="#ee0a12" stroke-width="1.8" fill="none"/><path d="M315.75,414v4.6" stroke="#ee0a12" stroke-width="0.9" stroke-opacity="0.8" fill="none"/>
<text transform="translate(325.45,420.6) scale(1,1.08)" font-size="8.1" fill="#0a0a0a" stroke="#0a0a0a" stroke-width="0.22">high risk(n=98)</text>
<path d="M385.05,417.2h9" stroke="#0a0aee" stroke-width="1.3" fill="none"/><path d="M387.35,417h4.4" stroke="#0a0aee" stroke-width="1.8" fill="none"/><path d="M389.55,414v4.6" stroke="#0a0aee" stroke-width="0.9" stroke-opacity="0.8" fill="none"/>
<text transform="translate(399.25,420.6) scale(1,1.08)" font-size="8.1" fill="#0a0a0a" stroke="#0a0a0a" stroke-width="0.22">low risk(n=171)</text>
<path d="M489.3,433.8V585.05H681.5" stroke="#555555" stroke-width="1.2" fill="none"/>
<text transform="translate(485.8,581.2) scale(1,1.08)" text-anchor="end" font-size="7.6" fill="#2a2a2a" stroke="#2a2a2a" stroke-width="0.22">0.00</text>
<text transform="translate(485.8,546.85) scale(1,1.08)" text-anchor="end" font-size="7.6" fill="#2a2a2a" stroke="#2a2a2a" stroke-width="0.22">0.25</text>
<text transform="translate(485.8,512.5) scale(1,1.08)" text-anchor="end" font-size="7.6" fill="#2a2a2a" stroke="#2a2a2a" stroke-width="0.22">0.50</text>
<text transform="translate(485.8,478.15) scale(1,1.08)" text-anchor="end" font-size="7.6" fill="#2a2a2a" stroke="#2a2a2a" stroke-width="0.22">0.75</text>
<text transform="translate(485.8,443.8) scale(1,1.08)" text-anchor="end" font-size="7.6" fill="#2a2a2a" stroke="#2a2a2a" stroke-width="0.22">1.00</text>
<text transform="translate(498.25,593.7) scale(1,1.08)" text-anchor="middle" font-size="7.6" fill="#2a2a2a" stroke="#2a2a2a" stroke-width="0.22">0</text>
<text transform="translate(509.93,593.7) scale(1,1.08)" text-anchor="middle" font-size="7.6" fill="#2a2a2a" stroke="#2a2a2a" stroke-width="0.22">1</text>
<text transform="translate(521.61,593.7) scale(1,1.08)" text-anchor="middle" font-size="7.6" fill="#2a2a2a" stroke="#2a2a2a" stroke-width="0.22">2</text>
<text transform="translate(533.29,593.7) scale(1,1.08)" text-anchor="middle" font-size="7.6" fill="#2a2a2a" stroke="#2a2a2a" stroke-width="0.22">3</text>
<text transform="translate(544.97,593.7) scale(1,1.08)" text-anchor="middle" font-size="7.6" fill="#2a2a2a" stroke="#2a2a2a" stroke-width="0.22">4</text>
<text transform="translate(556.65,593.7) scale(1,1.08)" text-anchor="middle" font-size="7.6" fill="#2a2a2a" stroke="#2a2a2a" stroke-width="0.22">5</text>
<text transform="translate(568.33,593.7) scale(1,1.08)" text-anchor="middle" font-size="7.6" fill="#2a2a2a" stroke="#2a2a2a" stroke-width="0.22">6</text>
<text transform="translate(580.01,593.7) scale(1,1.08)" text-anchor="middle" font-size="7.6" fill="#2a2a2a" stroke="#2a2a2a" stroke-width="0.22">7</text>
<text transform="translate(591.69,593.7) scale(1,1.08)" text-anchor="middle" font-size="7.6" fill="#2a2a2a" stroke="#2a2a2a" stroke-width="0.22">8</text>
<text transform="translate(603.37,593.7) scale(1,1.08)" text-anchor="middle" font-size="7.6" fill="#2a2a2a" stroke="#2a2a2a" stroke-width="0.22">9</text>
<text transform="translate(615.05,593.7) scale(1,1.08)" text-anchor="middle" font-size="7.6" fill="#2a2a2a" stroke="#2a2a2a" stroke-width="0.22">10</text>
<text transform="translate(626.73,593.7) scale(1,1.08)" text-anchor="middle" font-size="7.6" fill="#2a2a2a" stroke="#2a2a2a" stroke-width="0.22">11</text>
<text transform="translate(638.41,593.7) scale(1,1.08)" text-anchor="middle" font-size="7.6" fill="#2a2a2a" stroke="#2a2a2a" stroke-width="0.22">12</text>
<text transform="translate(650.09,593.7) scale(1,1.08)" text-anchor="middle" font-size="7.6" fill="#2a2a2a" stroke="#2a2a2a" stroke-width="0.22">13</text>
<text transform="translate(661.77,593.7) scale(1,1.08)" text-anchor="middle" font-size="7.6" fill="#2a2a2a" stroke="#2a2a2a" stroke-width="0.22">14</text>
<text transform="translate(673.45,593.7) scale(1,1.08)" text-anchor="middle" font-size="7.6" fill="#2a2a2a" stroke="#2a2a2a" stroke-width="0.22">15</text>
<path d="M487.3,578h2.0M487.3,543.65h2.0M487.3,509.3h2.0M487.3,474.95h2.0M487.3,440.6h2.0M498.25,585.05v2.0M509.93,585.05v2.0M521.61,585.05v2.0M533.29,585.05v2.0M544.97,585.05v2.0M556.65,585.05v2.0M568.33,585.05v2.0M580.01,585.05v2.0M591.69,585.05v2.0M603.37,585.05v2.0M615.05,585.05v2.0M626.73,585.05v2.0M638.41,585.05v2.0M650.09,585.05v2.0M661.77,585.05v2.0M673.45,585.05v2.0" stroke="#333" stroke-width="1.1" fill="none"/>
<text transform="translate(585.7,603.7) scale(1,1.08)" text-anchor="middle" font-size="8.85" fill="#0a0a0a" stroke="#0a0a0a" stroke-width="0.22">Time(years)</text>
<text transform="translate(467.5,509.6) rotate(-90) scale(1,1.08)" text-anchor="middle" font-size="8.85" fill="#0a0a0a" stroke="#0a0a0a" stroke-width="0.22">Survival probability</text>
<path d="M498.25,440.6L499.42,441.97L499.77,447.74L500.94,458.05L505.49,489.1L507.01,498.17L509,504.77L509.93,511.36L510.75,517.96L513.2,522.9L515.19,528.67L516.35,533.62L517.64,539.25L521.26,543.51L527.92,546.81L531.3,550.11L532.94,555.19L542.98,556.84L544.62,560.14L553.03,561.79L554.66,564.26L561.91,564.26L562.37,568.52L626.61,568.52" stroke="#d22024" stroke-width="1.6" fill="none" stroke-linejoin="round"/>
<path d="M498.25,440.6L501.17,446.78L502.81,453.24L505.49,462.58L509,470.69L512.38,476.46L517.05,485.67L522.78,490.34L526.28,495.56L532.01,499.54L537.85,502.98L541.35,503.8L544.62,505.04L551.28,505.04L553.03,509.99L598.11,509.99L598.11,518.37L660.02,518.37" stroke="#0c0cd6" stroke-width="1.6" fill="none" stroke-linejoin="round"/>
<path d="M498.25,440.6L501.17,446.78M501.17,446.78L502.81,453.24M502.81,453.24L505.49,462.58M505.49,462.58L509,470.69M509,470.69L512.38,476.46M512.38,476.46L517.05,485.67M517.05,485.67L522.78,490.34M522.78,490.34L526.28,495.56M526.28,495.56L532.01,499.54M532.01,499.54L537.85,502.98M541.35,503.8L544.62,505.04M551.28,505.04L553.03,509.99" stroke="#0c0cd6" stroke-width="2.3" fill="none" stroke-linecap="round" stroke-linejoin="round"/>
<path d="M538.45,502.98L540.75,503.8M545.22,505.04L550.68,505.04M553.63,509.99L597.51,509.99M598.71,518.37L659.42,518.37" stroke="#2a2ad0" stroke-width="1.6" fill="none"/>
<path d="M499.77,445.34v4M501.75,460.18v4M505.26,484.92v4M509.93,508.96v4M511.68,517.89v4M515.19,526.27v4M516.94,534.38v4M519.27,539.88v4M523.95,542.62v4M528.62,544.69v4M537.96,553.62v4M548.47,559.39v4M553.15,559.39v4M582.35,566.12v4M626.61,566.12v4" stroke="#ee0a12" stroke-width="0.9" stroke-opacity="0.75" fill="none"/><path d="M497.57,447.74h4.4M499.55,462.58h4.4M503.06,487.32h4.4M507.73,511.36h4.4M509.48,520.29h4.4M512.99,528.67h4.4M514.74,536.78h4.4M517.07,542.28h4.4M521.75,545.02h4.4M526.42,547.09h4.4M535.76,556.02h4.4M546.27,561.79h4.4M550.95,561.79h4.4M580.15,568.52h4.4M624.41,568.52h4.4" stroke="#ee0a12" stroke-width="1.6" fill="none"/>
<path d="M498.83,438.2v4M500.59,443.7v4M502.34,449.19v4M504.67,457.44v4M507.59,465.68v4M509.93,469.8v4M512.27,473.92v4M514.6,478.73v4M518.11,484.23v4M522.78,487.94v4M526.28,493.16v4M529.79,495.22v4M534.46,497.97v4M539.13,500.72v4M543.22,502.64v4M546.14,502.64v4M549.64,502.64v4M555.48,507.59v4M558.99,507.59v4M562.49,507.59v4M568.33,507.59v4M585.85,507.59v4M589.35,507.59v4M591.69,507.59v4M605.71,515.97v4M620.31,515.97v4M657.1,515.97v4M660.02,515.97v4" stroke="#0a0aee" stroke-width="0.9" stroke-opacity="0.75" fill="none"/><path d="M496.63,440.6h4.4M498.39,446.1h4.4M500.14,451.59h4.4M502.47,459.84h4.4M505.39,468.08h4.4M507.73,472.2h4.4M510.07,476.32h4.4M512.4,481.13h4.4M515.91,486.63h4.4M520.58,490.34h4.4M524.08,495.56h4.4M527.59,497.62h4.4M532.26,500.37h4.4M536.93,503.12h4.4M541.02,505.04h4.4M543.94,505.04h4.4M547.44,505.04h4.4M553.28,509.99h4.4M556.79,509.99h4.4M560.29,509.99h4.4M566.13,509.99h4.4M583.65,509.99h4.4M587.15,509.99h4.4M589.49,509.99h4.4M603.51,518.37h4.4M618.11,518.37h4.4M654.9,518.37h4.4M657.82,518.37h4.4" stroke="#0a0aee" stroke-width="1.6" fill="none"/>
<text transform="translate(501.4,554.4) scale(1,1.08)" font-size="10.35" fill="#111" stroke="#111" stroke-width="0.22">p&lt;0.001</text>
<text transform="translate(499.81,420.6) scale(1,1.08)" font-size="8.1" fill="#0a0a0a" stroke="#0a0a0a" stroke-width="0.22">T3+T4</text>
<path d="M528.44,417.2h9" stroke="#ee0a12" stroke-width="1.3" fill="none"/><path d="M530.74,417h4.4" stroke="#ee0a12" stroke-width="1.8" fill="none"/><path d="M532.94,414v4.6" stroke="#ee0a12" stroke-width="0.9" stroke-opacity="0.8" fill="none"/>
<text transform="translate(542.64,420.6) scale(1,1.08)" font-size="8.1" fill="#0a0a0a" stroke="#0a0a0a" stroke-width="0.22">high risk(n=90)</text>
<path d="M602.25,417.2h9" stroke="#0a0aee" stroke-width="1.3" fill="none"/><path d="M604.55,417h4.4" stroke="#0a0aee" stroke-width="1.8" fill="none"/><path d="M606.75,414v4.6" stroke="#0a0aee" stroke-width="0.9" stroke-opacity="0.8" fill="none"/>
<text transform="translate(616.45,420.6) scale(1,1.08)" font-size="8.1" fill="#0a0a0a" stroke="#0a0a0a" stroke-width="0.22">low risk(n=157)</text>
</g>
</svg>
</body></html>
